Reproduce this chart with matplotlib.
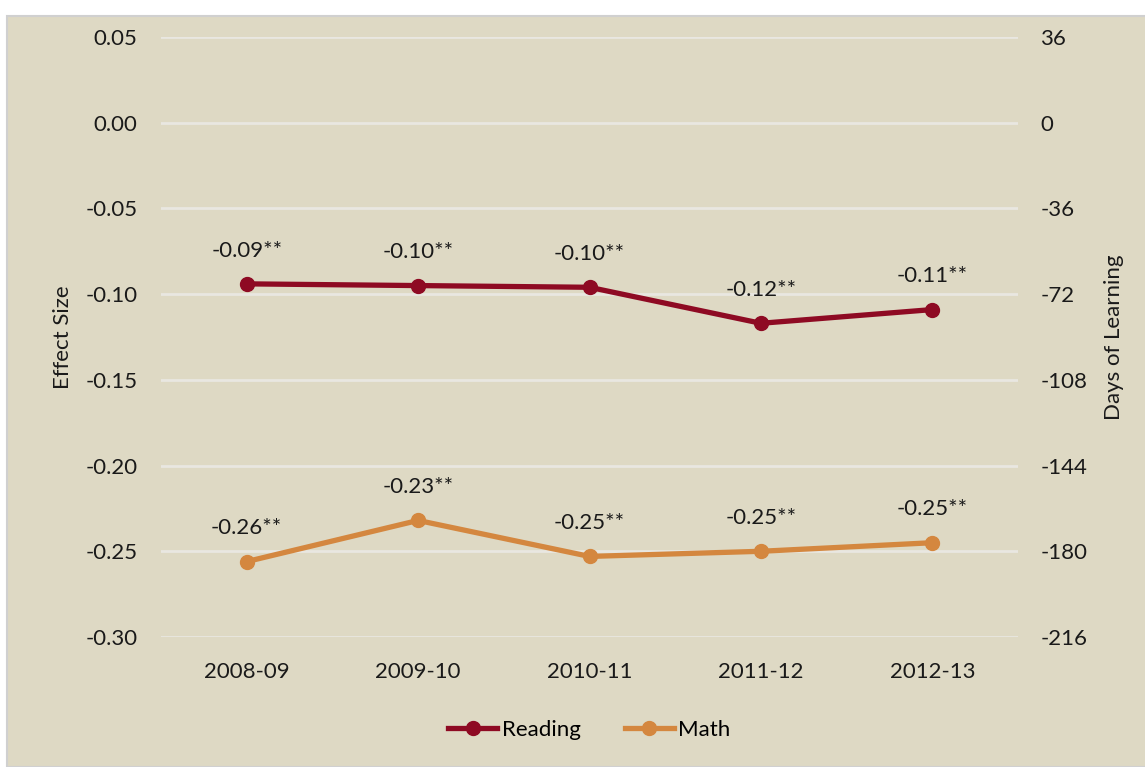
import numpy as np
import matplotlib.pyplot as plt
import matplotlib.patches as mpatches

years = ['2008-09', '2009-10', '2010-11', '2011-12', '2012-13']
reading = [-0.094, -0.095, -0.096, -0.117, -0.109]
math = [-0.256, -0.232, -0.253, -0.250, -0.245]
reading_labels = ['-0.09**', '-0.10**', '-0.10**', '-0.12**', '-0.11**']
math_labels = ['-0.26**', '-0.23**', '-0.25**', '-0.25**', '-0.25**']
effect_ticks = [0.05, 0.00, -0.05, -0.10, -0.15, -0.20, -0.25, -0.30]
days_ticks = [36, 0, -36, -72, -108, -144, -180, -216]

bg = '#DED9C4'
red = '#8E0A23'
orange = '#D4873F'
plt.rcParams['font.family'] = ['Lato', 'DejaVu Sans']

fig = plt.figure(figsize=(11.45, 7.67), dpi=100, facecolor='white')
# beige chart panel (image is cropped, so a white strip shows at top/left)
fig.patches.append(mpatches.Rectangle((7 / 1145, 0), 1, 1 - 16 / 767,
                                      transform=fig.transFigure,
                                      facecolor=bg, edgecolor='#D0D0D0',
                                      linewidth=1.5, zorder=-10))

ax = fig.add_axes([161 / 1145, 1 - 637 / 767, (1018 - 161) / 1145, 600 / 767])
ax.set_facecolor('none')
x = np.arange(len(years))

ax.set_ylim(-0.30, 0.05)
ax.set_xlim(-0.5, len(years) - 0.5)
ax.set_yticks(effect_ticks)
ax.set_yticklabels(['%.2f' % v for v in effect_ticks])
ax.set_xticks(x)
ax.set_xticklabels(years)
ax.grid(axis='y', color='#E9E7E1', linewidth=2)
ax.set_axisbelow(True)
for s in ax.spines.values():
    s.set_visible(False)
ax.tick_params(length=0, labelsize=16, colors='#1A1A1A', pad=17)
ax.tick_params(axis='x', pad=18)
ax.set_ylabel('Effect Size', fontsize=16, color='#1A1A1A', labelpad=9)

ax.plot(x, reading, color=red, linewidth=3.8, marker='o', markersize=10, label='Reading')
ax.plot(x, math, color=orange, linewidth=3.8, marker='o', markersize=10, label='Math')

for xi, v, t in zip(x, reading, reading_labels):
    ax.annotate(t, (xi, v), xytext=(0, 24), textcoords='offset points',
                ha='center', va='center', fontsize=16, color='#1A1A1A')
for xi, v, t in zip(x, math, math_labels):
    ax.annotate(t, (xi, v), xytext=(0, 24), textcoords='offset points',
                ha='center', va='center', fontsize=16, color='#1A1A1A')

ax2 = ax.twinx()
ax2.set_ylim(-0.30 * 720, 0.05 * 720)
ax2.set_yticks(days_ticks)
ax2.set_yticklabels([str(v) for v in days_ticks])
for s in ax2.spines.values():
    s.set_visible(False)
ax2.tick_params(length=0, labelsize=16, colors='#1A1A1A', pad=16)
ax2.set_ylabel('Days of Learning', fontsize=16, color='#1A1A1A', labelpad=12)

ax.legend(loc='center', bbox_to_anchor=(0.5, -0.155), ncol=2, frameon=False,
          fontsize=16, handlelength=2.2, columnspacing=2.0, handletextpad=0.2)

fig.savefig('out.png', dpi=100, facecolor='white')
